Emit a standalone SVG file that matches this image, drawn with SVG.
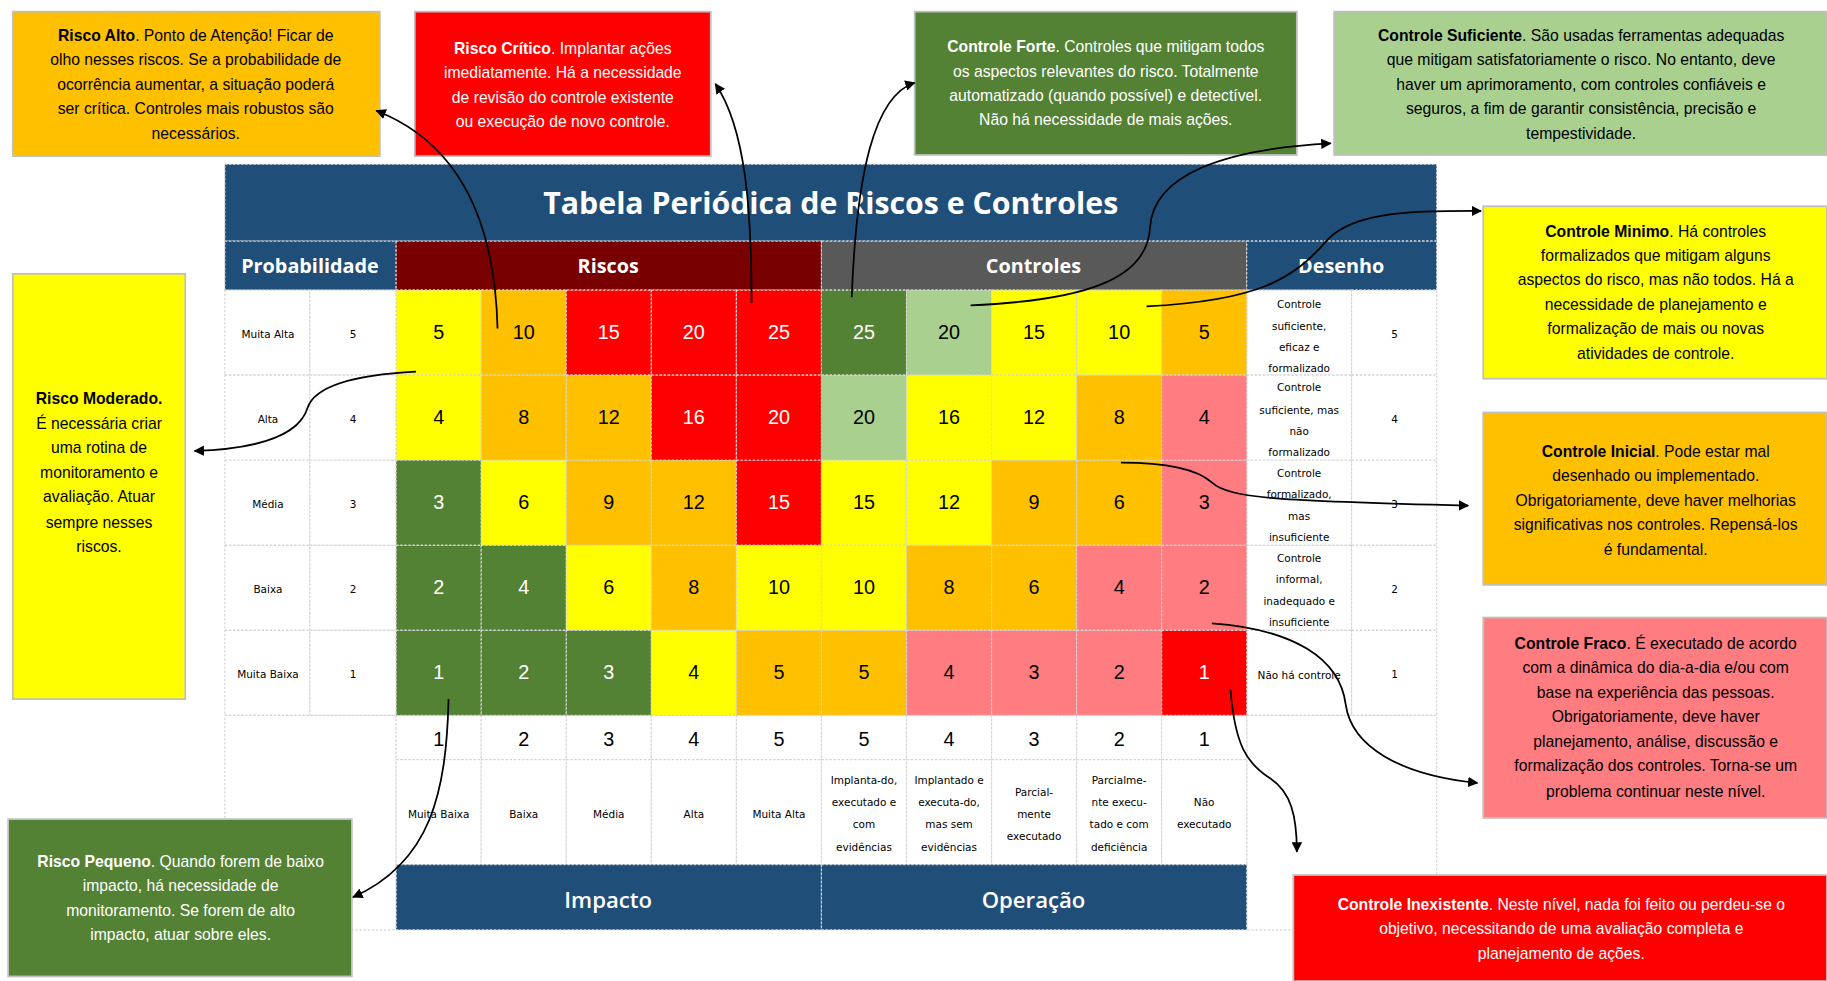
<svg xmlns="http://www.w3.org/2000/svg" width="1827" height="981" viewBox="0 0 1827 981">
<style>
.c{stroke:#d4d4d4;stroke-width:1;stroke-dasharray:2 1.5}
.Y{fill:#FFFF00}.O{fill:#FFC000}.R{fill:#FF0000}.G{fill:#548235}.L{fill:#A9D08E}.P{fill:#FF7C80}.W{fill:#FFFFFF}.B{fill:#1F4E79}.D{fill:#780000}.S{fill:#595959}
.n{font-family:"Liberation Sans",Arial,sans-serif;font-size:17px;text-anchor:middle}
.w{fill:#fff}.k{fill:#000}
.lbl{font-family:"DejaVu Sans",sans-serif;font-size:9px;text-anchor:middle;fill:#000}
.hd{font-family:"Open Sans","Liberation Sans",sans-serif;font-weight:bold;font-size:17px;fill:#fff;text-anchor:middle}
.ft{font-family:"Open Sans","Liberation Sans",sans-serif;font-weight:600;font-size:19px;fill:#fff;text-anchor:middle}
.co{font-family:"Liberation Sans",Arial,sans-serif;font-size:13.5px;text-anchor:middle}
.box{stroke:#bfbfbf;stroke-width:1.5}
.conn{fill:none;stroke:#000;stroke-width:1.5;marker-end:url(#ah)}
</style>
<defs>
<marker id="ah" viewBox="0 0 10 10" refX="9" refY="5" markerWidth="6" markerHeight="6" orient="auto"><path d="M0,0 L10,5 L0,10 z" fill="#000"/></marker>
</defs>
<rect width="1827" height="981" fill="#fff"/>
<g transform="scale(1.16518)">
<g id="tabela">
<rect class="B c" x="193" y="141" width="1040" height="66"/>
<text x="713" y="184" font-family="'Open Sans','Liberation Sans',sans-serif" font-weight="bold" font-size="26" fill="#fff" text-anchor="middle">Tabela Periódica de Riscos e Controles</text>
<rect class="B c" x="193" y="207" width="147" height="42"/>
<rect class="D c" x="340" y="207" width="365" height="42"/>
<rect class="S c" x="705" y="207" width="365" height="42"/>
<rect class="B c" x="1070" y="207" width="163" height="42"/>
<text class="hd" x="266" y="234">Probabilidade</text>
<text class="hd" x="522" y="234">Riscos</text>
<text class="hd" x="887" y="234">Controles</text>
<text class="hd" x="1151" y="234">Desenho</text>
<g class="W c">
<rect x="193" y="249" width="73" height="73"/><rect x="266" y="249" width="74" height="73"/>
<rect x="193" y="322" width="73" height="73"/><rect x="266" y="322" width="74" height="73"/>
<rect x="193" y="395" width="73" height="73"/><rect x="266" y="395" width="74" height="73"/>
<rect x="193" y="468" width="73" height="73"/><rect x="266" y="468" width="74" height="73"/>
<rect x="193" y="541" width="73" height="73"/><rect x="266" y="541" width="74" height="73"/>
<rect x="1070" y="249" width="90" height="73"/><rect x="1160" y="249" width="73" height="73"/>
<rect x="1070" y="322" width="90" height="73"/><rect x="1160" y="322" width="73" height="73"/>
<rect x="1070" y="395" width="90" height="73"/><rect x="1160" y="395" width="73" height="73"/>
<rect x="1070" y="468" width="90" height="73"/><rect x="1160" y="468" width="73" height="73"/>
<rect x="1070" y="541" width="90" height="73"/><rect x="1160" y="541" width="73" height="73"/>
<rect x="193" y="614" width="147" height="184"/>
<rect x="1070" y="614" width="163" height="184"/>
<rect x="340" y="614" width="73" height="38"/><rect x="413" y="614" width="73" height="38"/><rect x="486" y="614" width="73" height="38"/><rect x="559" y="614" width="73" height="38"/><rect x="632" y="614" width="73" height="38"/>
<rect x="705" y="614" width="73" height="38"/><rect x="778" y="614" width="73" height="38"/><rect x="851" y="614" width="73" height="38"/><rect x="924" y="614" width="73" height="38"/><rect x="997" y="614" width="73" height="38"/>
<rect x="340" y="652" width="73" height="90"/><rect x="413" y="652" width="73" height="90"/><rect x="486" y="652" width="73" height="90"/><rect x="559" y="652" width="73" height="90"/><rect x="632" y="652" width="73" height="90"/>
<rect x="705" y="652" width="73" height="90"/><rect x="778" y="652" width="73" height="90"/><rect x="851" y="652" width="73" height="90"/><rect x="924" y="652" width="73" height="90"/><rect x="997" y="652" width="73" height="90"/>
</g>
<rect class="B c" x="340" y="742" width="365" height="56"/>
<rect class="B c" x="705" y="742" width="365" height="56"/>
<text class="ft" x="522" y="779">Impacto</text>
<text class="ft" x="887" y="779">Operação</text>
<g class="lbl">
<text x="230" y="290">Muita Alta</text><text x="303" y="290">5</text>
<text x="230" y="363">Alta</text><text x="303" y="363">4</text>
<text x="230" y="436">Média</text><text x="303" y="436">3</text>
<text x="230" y="509">Baixa</text><text x="303" y="509">2</text>
<text x="230" y="582">Muita Baixa</text><text x="303" y="582">1</text>
<text x="1197" y="290">5</text><text x="1197" y="363">4</text><text x="1197" y="436">3</text><text x="1197" y="509">2</text><text x="1197" y="582">1</text>
<text x="1115" y="264">Controle</text><text x="1115" y="283">suficiente,</text><text x="1115" y="301">eficaz e</text><text x="1115" y="319">formalizado</text>
<text x="1115" y="336">Controle</text><text x="1115" y="355">suficiente, mas</text><text x="1115" y="373">não</text><text x="1115" y="391">formalizado</text>
<text x="1115" y="409">Controle</text><text x="1115" y="427">formalizado,</text><text x="1115" y="446">mas</text><text x="1115" y="464">insuficiente</text>
<text x="1115" y="482">Controle</text><text x="1115" y="500">informal,</text><text x="1115" y="519">inadequado e</text><text x="1115" y="537">insuficiente</text>
<text x="1115" y="583">Não há controle</text>
<text x="376.5" y="702">Muita Baixa</text><text x="449.5" y="702">Baixa</text><text x="522.5" y="702">Média</text><text x="595.5" y="702">Alta</text><text x="668.5" y="702">Muita Alta</text>
<text x="741.5" y="673">Implanta-do,</text><text x="741.5" y="692">executado e</text><text x="741.5" y="711">com</text><text x="741.5" y="730">evidências</text>
<text x="814.5" y="673">Implantado e</text><text x="814.5" y="692">executa-do,</text><text x="814.5" y="711">mas sem</text><text x="814.5" y="730">evidências</text>
<text x="887.5" y="683">Parcial-</text><text x="887.5" y="702">mente</text><text x="887.5" y="721">executado</text>
<text x="960.5" y="673">Parcialme-</text><text x="960.5" y="692">nte execu-</text><text x="960.5" y="711">tado e com</text><text x="960.5" y="730">deficiência</text>
<text x="1033.5" y="692">Não</text><text x="1033.5" y="711">executado</text>
</g>
<g class="c">
<rect class="Y" x="340" y="249" width="73" height="73"/><rect class="O" x="413" y="249" width="73" height="73"/><rect class="R" x="486" y="249" width="73" height="73"/><rect class="R" x="559" y="249" width="73" height="73"/><rect class="R" x="632" y="249" width="73" height="73"/>
<rect class="G" x="705" y="249" width="73" height="73"/><rect class="L" x="778" y="249" width="73" height="73"/><rect class="Y" x="851" y="249" width="73" height="73"/><rect class="Y" x="924" y="249" width="73" height="73"/><rect class="O" x="997" y="249" width="73" height="73"/>
<rect class="Y" x="340" y="322" width="73" height="73"/><rect class="O" x="413" y="322" width="73" height="73"/><rect class="O" x="486" y="322" width="73" height="73"/><rect class="R" x="559" y="322" width="73" height="73"/><rect class="R" x="632" y="322" width="73" height="73"/>
<rect class="L" x="705" y="322" width="73" height="73"/><rect class="Y" x="778" y="322" width="73" height="73"/><rect class="Y" x="851" y="322" width="73" height="73"/><rect class="O" x="924" y="322" width="73" height="73"/><rect class="P" x="997" y="322" width="73" height="73"/>
<rect class="G" x="340" y="395" width="73" height="73"/><rect class="Y" x="413" y="395" width="73" height="73"/><rect class="O" x="486" y="395" width="73" height="73"/><rect class="O" x="559" y="395" width="73" height="73"/><rect class="R" x="632" y="395" width="73" height="73"/>
<rect class="Y" x="705" y="395" width="73" height="73"/><rect class="Y" x="778" y="395" width="73" height="73"/><rect class="O" x="851" y="395" width="73" height="73"/><rect class="O" x="924" y="395" width="73" height="73"/><rect class="P" x="997" y="395" width="73" height="73"/>
<rect class="G" x="340" y="468" width="73" height="73"/><rect class="G" x="413" y="468" width="73" height="73"/><rect class="Y" x="486" y="468" width="73" height="73"/><rect class="O" x="559" y="468" width="73" height="73"/><rect class="Y" x="632" y="468" width="73" height="73"/>
<rect class="Y" x="705" y="468" width="73" height="73"/><rect class="O" x="778" y="468" width="73" height="73"/><rect class="O" x="851" y="468" width="73" height="73"/><rect class="P" x="924" y="468" width="73" height="73"/><rect class="P" x="997" y="468" width="73" height="73"/>
<rect class="G" x="340" y="541" width="73" height="73"/><rect class="G" x="413" y="541" width="73" height="73"/><rect class="G" x="486" y="541" width="73" height="73"/><rect class="Y" x="559" y="541" width="73" height="73"/><rect class="O" x="632" y="541" width="73" height="73"/>
<rect class="O" x="705" y="541" width="73" height="73"/><rect class="P" x="778" y="541" width="73" height="73"/><rect class="P" x="851" y="541" width="73" height="73"/><rect class="P" x="924" y="541" width="73" height="73"/><rect class="R" x="997" y="541" width="73" height="73"/>
</g>
<g class="n">
<text class="k" x="376.5" y="291">5</text><text class="k" x="449.5" y="291">10</text><text class="w" x="522.5" y="291">15</text><text class="w" x="595.5" y="291">20</text><text class="w" x="668.5" y="291">25</text>
<text class="w" x="741.5" y="291">25</text><text class="k" x="814.5" y="291">20</text><text class="k" x="887.5" y="291">15</text><text class="k" x="960.5" y="291">10</text><text class="k" x="1033.5" y="291">5</text>
<text class="k" x="376.5" y="364">4</text><text class="k" x="449.5" y="364">8</text><text class="k" x="522.5" y="364">12</text><text class="w" x="595.5" y="364">16</text><text class="w" x="668.5" y="364">20</text>
<text class="k" x="741.5" y="364">20</text><text class="k" x="814.5" y="364">16</text><text class="k" x="887.5" y="364">12</text><text class="k" x="960.5" y="364">8</text><text class="k" x="1033.5" y="364">4</text>
<text class="w" x="376.5" y="437">3</text><text class="k" x="449.5" y="437">6</text><text class="k" x="522.5" y="437">9</text><text class="k" x="595.5" y="437">12</text><text class="w" x="668.5" y="437">15</text>
<text class="k" x="741.5" y="437">15</text><text class="k" x="814.5" y="437">12</text><text class="k" x="887.5" y="437">9</text><text class="k" x="960.5" y="437">6</text><text class="k" x="1033.5" y="437">3</text>
<text class="w" x="376.5" y="510">2</text><text class="w" x="449.5" y="510">4</text><text class="k" x="522.5" y="510">6</text><text class="k" x="595.5" y="510">8</text><text class="k" x="668.5" y="510">10</text>
<text class="k" x="741.5" y="510">10</text><text class="k" x="814.5" y="510">8</text><text class="k" x="887.5" y="510">6</text><text class="k" x="960.5" y="510">4</text><text class="k" x="1033.5" y="510">2</text>
<text class="w" x="376.5" y="583">1</text><text class="w" x="449.5" y="583">2</text><text class="w" x="522.5" y="583">3</text><text class="k" x="595.5" y="583">4</text><text class="k" x="668.5" y="583">5</text>
<text class="k" x="741.5" y="583">5</text><text class="k" x="814.5" y="583">4</text><text class="k" x="887.5" y="583">3</text><text class="k" x="960.5" y="583">2</text><text class="w" x="1033.5" y="583">1</text>
<text class="k" x="376.5" y="640">1</text><text class="k" x="449.5" y="640">2</text><text class="k" x="522.5" y="640">3</text><text class="k" x="595.5" y="640">4</text><text class="k" x="668.5" y="640">5</text>
<text class="k" x="741.5" y="640">5</text><text class="k" x="814.5" y="640">4</text><text class="k" x="887.5" y="640">3</text><text class="k" x="960.5" y="640">2</text><text class="k" x="1033.5" y="640">1</text>
</g>
</g>

<g id="risco-alto">
<rect class="box O" x="11" y="10" width="315" height="124"/>
<text class="co k"><tspan x="168" y="35"><tspan font-weight="bold">Risco Alto</tspan>. Ponto de Atenção! Ficar de</tspan><tspan x="168" y="56">olho nesses riscos. Se a probabilidade de</tspan><tspan x="168" y="77">ocorrência aumentar, a situação poderá</tspan><tspan x="168" y="98">ser crítica. Controles mais robustos são</tspan><tspan x="168" y="119">necessários.</tspan></text>
</g>
<g id="risco-critico">
<rect class="box R" x="356" y="10" width="254" height="124"/>
<text class="co w"><tspan x="483" y="46"><tspan font-weight="bold">Risco Crítico</tspan>. Implantar ações</tspan><tspan x="483" y="67">imediatamente. Há a necessidade</tspan><tspan x="483" y="88">de revisão do controle existente</tspan><tspan x="483" y="109">ou execução de novo controle.</tspan></text>
</g>
<g id="controle-forte">
<rect class="box G" x="785" y="10" width="328" height="123"/>
<text class="co w"><tspan x="949" y="45"><tspan font-weight="bold">Controle Forte</tspan>. Controles que mitigam todos</tspan><tspan x="949" y="66">os aspectos relevantes do risco. Totalmente</tspan><tspan x="949" y="87">automatizado (quando possível) e detectível.</tspan><tspan x="949" y="107">Não há necessidade de mais ações.</tspan></text>
</g>
<g id="controle-suficiente">
<rect class="box L" x="1145" y="10" width="423" height="123"/>
<text class="co k"><tspan x="1357" y="35"><tspan font-weight="bold">Controle Suficiente</tspan>. São usadas ferramentas adequadas</tspan><tspan x="1357" y="56">que mitigam satisfatoriamente o risco. No entanto, deve</tspan><tspan x="1357" y="77">haver um aprimoramento, com controles confiáveis e</tspan><tspan x="1357" y="98">seguros, a fim de garantir consistência, precisão e</tspan><tspan x="1357" y="119">tempestividade.</tspan></text>
</g>
<g id="controle-minimo">
<rect class="box Y" x="1273" y="177" width="295" height="148"/>
<text class="co k"><tspan x="1421" y="203"><tspan font-weight="bold">Controle Minimo</tspan>. Há controles</tspan><tspan x="1421" y="224">formalizados que mitigam alguns</tspan><tspan x="1421" y="245">aspectos do risco, mas não todos. Há a</tspan><tspan x="1421" y="266">necessidade de planejamento e</tspan><tspan x="1421" y="287">formalização de mais ou novas</tspan><tspan x="1421" y="308">atividades de controle.</tspan></text>
</g>
<g id="controle-inicial">
<rect class="box O" x="1273" y="354" width="295" height="148"/>
<text class="co k"><tspan x="1421" y="392"><tspan font-weight="bold">Controle Inicial</tspan>. Pode estar mal</tspan><tspan x="1421" y="413">desenhado ou implementado.</tspan><tspan x="1421" y="434">Obrigatoriamente, deve haver melhorias</tspan><tspan x="1421" y="455">significativas nos controles. Repensá-los</tspan><tspan x="1421" y="476">é fundamental.</tspan></text>
</g>
<g id="controle-fraco">
<rect class="box P" x="1273" y="530" width="295" height="172"/>
<text class="co k"><tspan x="1421" y="557"><tspan font-weight="bold">Controle Fraco</tspan>. É executado de acordo</tspan><tspan x="1421" y="578">com a dinâmica do dia-a-dia e/ou com</tspan><tspan x="1421" y="599">base na experiência das pessoas.</tspan><tspan x="1421" y="620">Obrigatoriamente, deve haver</tspan><tspan x="1421" y="641">planejamento, análise, discussão e</tspan><tspan x="1421" y="662">formalização dos controles. Torna-se um</tspan><tspan x="1421" y="684">problema continuar neste nível.</tspan></text>
</g>
<g id="controle-inexistente">
<rect class="box R" x="1110" y="751" width="458" height="91"/>
<text class="co w"><tspan x="1340" y="781"><tspan font-weight="bold">Controle Inexistente</tspan>. Neste nível, nada foi feito ou perdeu-se o</tspan><tspan x="1340" y="802">objetivo, necessitando de uma avaliação completa e</tspan><tspan x="1340" y="823">planejamento de ações.</tspan></text>
</g>
<g id="risco-moderado">
<rect class="box Y" x="11" y="235" width="148" height="365"/>
<text class="co k"><tspan x="85" y="347" font-weight="bold">Risco Moderado.</tspan><tspan x="85" y="368">É necessária criar</tspan><tspan x="85" y="389">uma rotina de</tspan><tspan x="85" y="410">monitoramento e</tspan><tspan x="85" y="431">avaliação. Atuar</tspan><tspan x="85" y="453">sempre nesses</tspan><tspan x="85" y="474">riscos.</tspan></text>
</g>
<g id="risco-pequeno">
<rect class="box G" x="7" y="703" width="295" height="135"/>
<text class="co w"><tspan x="155" y="744"><tspan font-weight="bold">Risco Pequeno</tspan>. Quando forem de baixo</tspan><tspan x="155" y="765">impacto, há necessidade de</tspan><tspan x="155" y="786">monitoramento. Se forem de alto</tspan><tspan x="155" y="807">impacto, atuar sobre eles.</tspan></text>
</g>

<g id="conectores">
<path class="conn" d="M427 282 C425 200 400 125 323 95"/>
<path class="conn" d="M645 260 C645 180 640 110 614 72"/>
<path class="conn" d="M731 255 C735 150 750 82 785 71"/>
<path class="conn" d="M833 262 C930 258 985 240 987 195 C990 150 1050 128 1142 123"/>
<path class="conn" d="M984 263 C1080 258 1110 240 1140 205 C1165 180 1220 181 1271 181"/>
<path class="conn" d="M962 397 C1010 397 1030 405 1040 414 C1055 428 1100 430 1260 434"/>
<path class="conn" d="M1040 535 C1110 540 1150 565 1155 605 C1160 640 1200 665 1268 672"/>
<path class="conn" d="M1056 592 C1060 640 1070 655 1090 668 C1108 680 1113 700 1113 731"/>
<path class="conn" d="M357 319 C300 322 270 332 264 350 C258 370 230 385 167 387"/>
<path class="conn" d="M385 600 C383 680 370 740 303 770"/>
</g>
</g>
</svg>
